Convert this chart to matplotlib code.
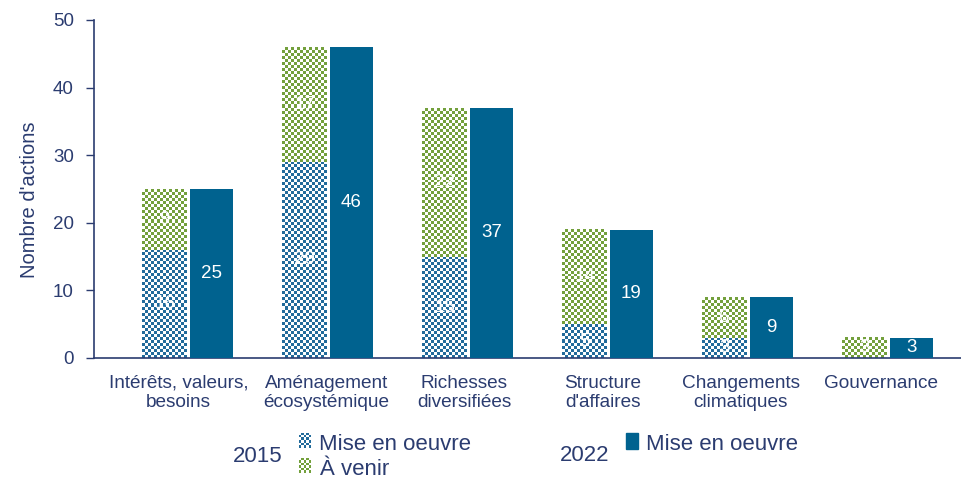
"""
Nombre d'actions par enjeu : 2015 (mise en oeuvre / à venir) vs 2022.
"""

import numpy as np
import matplotlib.pyplot as plt
from matplotlib.colors import ListedColormap

categories = ["Intérêts, valeurs,\nbesoins", "Aménagement\nécosystémique",
              "Richesses\ndiversifiées", "Structure\nd'affaires",
              "Changements\nclimatiques", "Gouvernance"]
done_2015 = [16, 29, 15, 5, 3, 0]
todo_2015 = [9, 17, 22, 14, 6, 3]
done_2022 = [25, 46, 37, 19, 9, 3]
yticks = [0, 10, 20, 30, 40, 50]

NAVY = "#2b3c70"
BLUE = "#00628f"
BLUE_CHK = "#226b9b"
GREEN_CHK = "#73a03c"

plt.rcParams["font.family"] = ["Liberation Sans", "DejaVu Sans"]

W, H = 962, 479
fig = plt.figure(figsize=(W / 100, H / 100), dpi=100)
ax = fig.add_axes([94 / W, 1 - 358 / H, 868 / W, 338 / H])

# one category unit = 140 px, 2015 bar of category 0 centred at 0
XMIN, XMAX = -0.505, 5.695
ax.set_xlim(XMIN, XMAX)
ax.set_ylim(0, 50)

bw15, bw22 = 0.32, 0.31
x15 = np.arange(len(categories))
x22 = x15 + 0.333


def checker(ax, x0, y0, w, h, color, cell=3.0):
    """Fill a rectangle with a fine checkerboard of color and white."""
    if h <= 0:
        return
    p0 = ax.transData.transform((x0, y0))
    p1 = ax.transData.transform((x0 + w, y0 + h))
    nx = max(1, int(round((p1[0] - p0[0]) / cell)))
    ny = max(1, int(round((p1[1] - p0[1]) / cell)))
    arr = np.indices((ny, nx)).sum(0) % 2
    ax.imshow(arr, extent=(x0, x0 + w, y0, y0 + h), cmap=ListedColormap(["white", color]),
              interpolation="nearest", aspect="auto", zorder=2)


for i in range(len(categories)):
    left = x15[i] - bw15 / 2
    checker(ax, left, 0, bw15, done_2015[i], BLUE_CHK)
    checker(ax, left, done_2015[i], bw15, todo_2015[i], GREEN_CHK)
    if done_2015[i] > 0:
        ax.text(x15[i], done_2015[i] / 2, str(done_2015[i]), ha="center", va="center",
                color="white", fontsize=13.5, zorder=4)
    ax.text(x15[i], done_2015[i] + todo_2015[i] / 2, str(todo_2015[i]), ha="center",
            va="center", color="white", fontsize=13.5, zorder=4)

ax.bar(x22, done_2022, width=bw22, color=BLUE, zorder=3)
for x, v in zip(x22, done_2022):
    ax.text(x, v / 2, str(v), ha="center", va="center", color="white", fontsize=13.5, zorder=4)

ax.set_xlim(XMIN, XMAX)
ax.set_ylim(0, 50)

# category labels are not exactly centred on the groups in the source
label_pos = [0.098, 1.155, 2.137, 3.13, 4.114, 5.119]
ax.set_xticks(label_pos)
ax.set_xticklabels(categories, fontsize=13.7, color=NAVY, linespacing=1.2)
ax.tick_params(axis="x", length=0, pad=12)
ax.set_yticks(yticks)
ax.tick_params(axis="y", length=6, width=1, color=NAVY, labelcolor=NAVY, labelsize=13.5, pad=8.5)

for side in ["top", "right"]:
    ax.spines[side].set_visible(False)
for side in ["left", "bottom"]:
    ax.spines[side].set_color(NAVY)
    ax.spines[side].set_linewidth(1.2)


def fx(px):
    return px / W


def fy(py):
    return 1 - py / H


fig.text(fx(29.5), fy(199.5), "Nombre d'actions", rotation=90, fontsize=14.5, color=NAVY,
         ha="center", va="center")

# legend drawn by hand
fig.text(fx(233), fy(461.5), "2015", fontsize=16, color=NAVY, va="baseline", ha="left")
fig.text(fx(560), fy(461), "2022", fontsize=16, color=NAVY, va="baseline", ha="left")
fig.text(fx(319), fy(450), "Mise en oeuvre", fontsize=16, color=NAVY, va="baseline", ha="left")
fig.text(fx(320), fy(475), "À venir", fontsize=16, color=NAVY, va="baseline", ha="left")
fig.text(fx(646), fy(450), "Mise en oeuvre", fontsize=16, color=NAVY, va="baseline", ha="left")

for (px, py, col) in [(299, 433, BLUE_CHK), (299, 458, GREEN_CHK)]:
    lax = fig.add_axes([fx(px), fy(py + 15), 12 / W, 15 / H])
    lax.set_axis_off()
    lax.set_xlim(0, 1)
    lax.set_ylim(0, 1)
    checker(lax, 0, 0, 1, 1, col, cell=2.5)
    lax.set_xlim(0, 1)
    lax.set_ylim(0, 1)

fig.patches.append(plt.Rectangle((fx(626), fy(449)), 12 / W, 16 / H, color=BLUE,
                                 transform=fig.transFigure, figure=fig))

fig.savefig("out.png", dpi=100)
